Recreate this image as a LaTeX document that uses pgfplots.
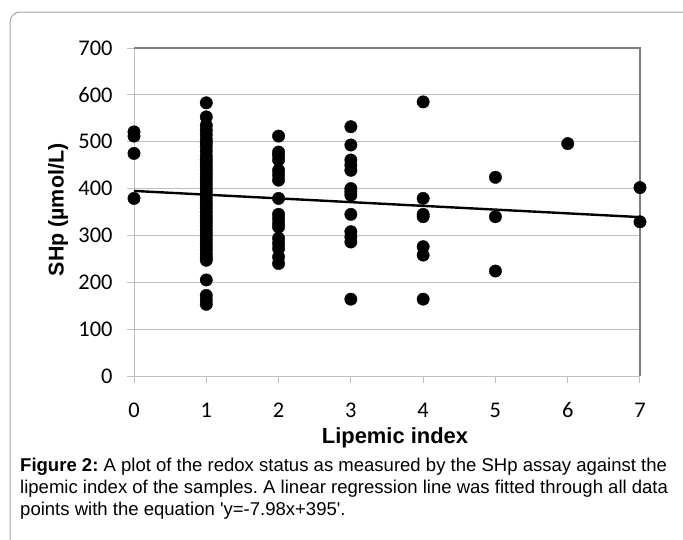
\documentclass[border=0pt]{standalone}
\usepackage{fontspec}
\setmainfont{Liberation Sans}
\newfontfamily\calibri[Numbers=Lining]{Carlito}
\usepackage{pgfplots}
\pgfplotsset{compat=1.18}
\definecolor{gridgray}{HTML}{BFBFBF}
\definecolor{boxgray}{HTML}{7F7F7F}
\definecolor{framegray}{HTML}{A6A6A6}
\frenchspacing
\begin{document}
\begin{tikzpicture}
\useasboundingbox (0,0) rectangle (683bp,-540bp);
% outer frame
\draw[framegray, line width=1bp] (10bp,-540bp) -- (10bp,-22bp) arc[start angle=180,end angle=90,radius=10bp] -- (683bp,-12bp);
\begin{axis}[
  at={(134bp,-376bp)}, anchor=south west,
  width=506bp, height=328bp, scale only axis,
  xmin=0, xmax=7, ymin=0, ymax=700,
  xtick={0,1,...,7}, ytick={0,100,...,700},
  ymajorgrids, grid style={gridgray, line width=1bp},
  axis line style={draw=none},
  tick style={gridgray, line width=1bp},
  tick align=outside, major tick length=7bp,
  xtick pos=left, ytick pos=left,
  tick label style={font=\calibri\fontsize{22.5}{24}\selectfont},
  xticklabel style={anchor=base, yshift=-34bp},
  yticklabel style={anchor=east, xshift=-11bp},
  /pgf/number format/assume math mode=true,
  clip=false]
\draw[gridgray, line width=1bp] (axis cs:0,0) -- (axis cs:0,700);
\draw[gridgray, line width=1bp] (axis cs:0,0) -- (axis cs:7,0);
\draw[boxgray, line width=1.2bp] (axis cs:0,700) -- (axis cs:7,700) -- (axis cs:7,0);
\addplot[only marks, mark=*, mark size=6.2bp, black] coordinates {
(0,521) (0,512) (0,475) (0,379)
(1,583) (1,553) (1,535) (1,525) (1,515) (1,505) (1,498) (1,490) (1,480) (1,470)
(1,462) (1,455) (1,447) (1,440) (1,432) (1,425) (1,418) (1,410) (1,402) (1,395)
(1,388) (1,380) (1,372) (1,365) (1,358) (1,350) (1,342) (1,335) (1,328) (1,320)
(1,312) (1,305) (1,298) (1,290) (1,282) (1,275) (1,268) (1,260) (1,253) (1,247)
(1,205) (1,172) (1,162) (1,153)
(2,512) (2,478) (2,471) (2,461) (2,439) (2,429) (2,418) (2,379) (2,345) (2,336)
(2,326) (2,318) (2,294) (2,283) (2,272) (2,254) (2,240)
(3,532) (3,493) (3,461) (3,450) (3,439) (3,400) (3,393) (3,386) (3,345) (3,308)
(3,297) (3,286) (3,164)
(4,585) (4,379) (4,345) (4,340) (4,276) (4,258) (4,164)
(5,424) (5,340) (5,224)
(6,496)
(7,402) (7,329)
};
\addplot[black, line width=2.4bp] coordinates {(0,395) (7,339.14)};
\end{axis}
\node[font=\bfseries\fontsize{22}{24}\selectfont] at (395bp,-438bp) {Lipemic index};
\node[font=\bfseries\fontsize{21.5}{24}\selectfont, rotate=90] at (58bp,-210bp) {SHp (µmol/L)};
\node[anchor=north west, align=left, inner sep=0pt, font=\fontsize{18.6}{22}\selectfont] at (20bp,-458bp)
{\textbf{Figure 2:} A plot of the redox status as measured by the SHp assay against the\\
lipemic index of the samples. A linear regression line was fitted through all data\\
points with the equation \textquotesingle y=-7.98x+395\textquotesingle.};
\end{tikzpicture}
\end{document}
